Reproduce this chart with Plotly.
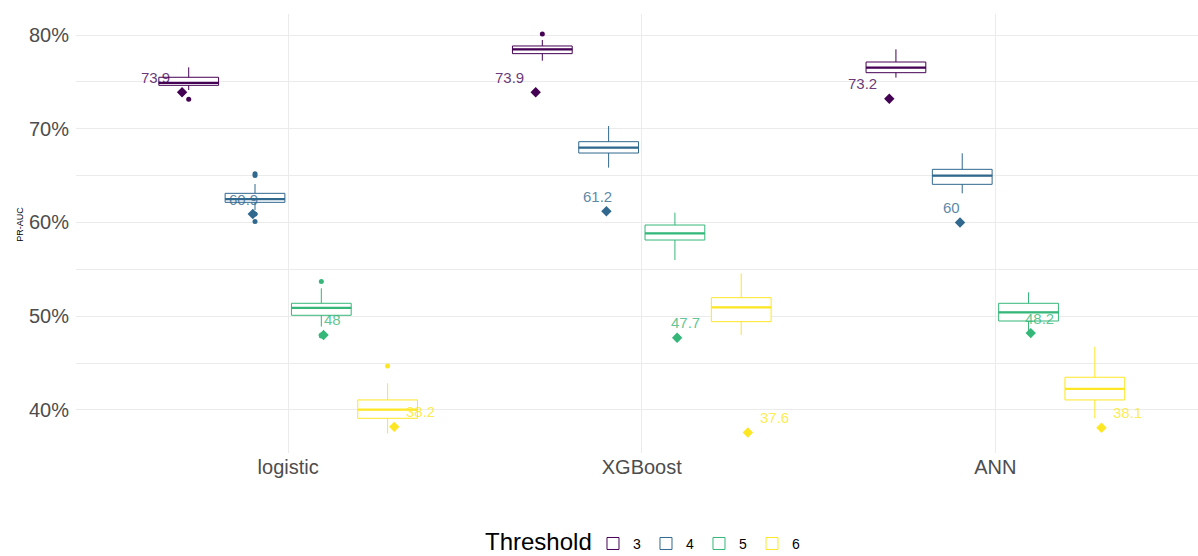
import plotly.graph_objects as go

# Models on the x axis and the threshold groups drawn inside each model
models = ["logistic", "XGBoost", "ANN"]
thresholds = ["3", "4", "5", "6"]
colors = ["#440154", "#31688E", "#35B779", "#FDE725"]
label_colors = ["rgba(68,1,84,0.8)", "rgba(49,104,142,0.8)",
                "rgba(53,183,121,0.8)", "rgba(253,231,37,0.8)"]

# y-axis ticks (PR-AUC in percent)
y_ticks = [40, 50, 60, 70, 80]
y_minor_ticks = [45, 55, 65, 75]

# Box statistics (PR-AUC, %), one row per threshold, one column per model
lower_whisker = [[74.13, 77.26, 75.45],
                 [61.33, 65.85, 63.11],
                 [48.90, 56.00, 48.35],
                 [37.50, 48.00, 39.11]]
q1 = [[74.63, 78.01, 75.98],
      [62.15, 67.41, 64.07],
      [50.10, 58.13, 49.49],
      [39.11, 49.42, 41.07]]
median = [[74.90, 78.47, 76.52],
          [62.50, 67.98, 64.99],
          [50.90, 58.84, 50.42],
          [40.03, 50.95, 42.24]]
q3 = [[75.49, 78.83, 77.12],
      [63.11, 68.62, 65.67],
      [51.38, 59.73, 51.38],
      [41.07, 51.98, 43.49]]
upper_whisker = [[76.55, 79.47, 78.47],
                 [64.10, 70.29, 67.38],
                 [52.98, 61.05, 52.55],
                 [42.85, 54.58, 46.75]]

# Outlying resamples per threshold and model
outliers = [[[73.14], [80.1], []],
            [[65.2, 65.0, 60.9, 60.1], [], []],
            [[53.7, 48.0, 47.9], [], []],
            [[44.7], [], []]]

# Single reference score per threshold and model (diamonds with labels)
reference_score = [[73.9, 73.9, 73.2],
                   [60.9, 61.2, 60.0],
                   [48.0, 47.7, 48.2],
                   [38.2, 37.6, 38.1]]

BOX_DODGE = 0.75 / 4
POINT_DODGE = 0.8 / 4
LABEL_DODGE = 1.0 / 4
BOX_WIDTH = 0.169
FONT = "Liberation Sans, Arial, sans-serif"

fig = go.Figure()
annotations = []

for j, thr in enumerate(thresholds):
    off = j - 1.5
    box_x = [i + 1 + off * BOX_DODGE for i in range(len(models))]
    fig.add_trace(go.Box(
        x=box_x,
        q1=q1[j], median=median[j], q3=q3[j],
        lowerfence=lower_whisker[j], upperfence=upper_whisker[j],
        width=BOX_WIDTH, whiskerwidth=0,
        line=dict(color=colors[j], width=1),
        fillcolor="white",
        name=thr, legendgroup=thr, boxpoints=False,
        hoverinfo="skip",
    ))

    # thicker median bar
    mx, my = [], []
    for i, bx in enumerate(box_x):
        mx += [bx - BOX_WIDTH / 2, bx + BOX_WIDTH / 2, None]
        my += [median[j][i], median[j][i], None]
    fig.add_trace(go.Scatter(x=mx, y=my, mode="lines",
                             line=dict(color=colors[j], width=2.2),
                             showlegend=False, legendgroup=thr, hoverinfo="skip"))

    # outliers
    ox, oy = [], []
    for i, pts in enumerate(outliers[j]):
        ox += [box_x[i]] * len(pts)
        oy += pts
    if ox:
        fig.add_trace(go.Scatter(x=ox, y=oy, mode="markers",
                                 marker=dict(color=colors[j], size=5),
                                 showlegend=False, legendgroup=thr, hoverinfo="skip"))

    # reference diamonds
    px = [i + 1 + off * POINT_DODGE for i in range(len(models))]
    fig.add_trace(go.Scatter(x=px, y=reference_score[j], mode="markers",
                             marker=dict(color=colors[j], size=8, symbol="diamond"),
                             showlegend=False, legendgroup=thr, hoverinfo="skip"))

    for i, v in enumerate(reference_score[j]):
        annotations.append(dict(
            x=i + 1 + off * LABEL_DODGE, y=v, xref="x", yref="y",
            text=f"{v:g}", showarrow=False, yshift=15,
            xanchor="center", yanchor="middle",
            font=dict(family=FONT, size=15, color=label_colors[j]),
        ))

# y-axis title
annotations.append(dict(
    x=-0.05, y=0.522, xref="paper", yref="paper",
    text="PR-AUC", textangle=-90, showarrow=False,
    xanchor="center", yanchor="middle",
    font=dict(family=FONT, size=9, color="black"),
))
# legend title, set beside the legend keys
annotations.append(dict(
    x=0.4617, y=-0.2017, xref="paper", yref="paper",
    text="Threshold", showarrow=False,
    xanchor="right", yanchor="middle",
    font=dict(family=FONT, size=24, color="black"),
))

fig.update_layout(
    width=1198, height=556,
    margin=dict(l=76, r=0, t=14, b=103, autoexpand=False),
    paper_bgcolor="white", plot_bgcolor="white",
    boxmode="overlay",
    font=dict(family=FONT),
    annotations=annotations,
    legend=dict(
        orientation="h", x=0.46078, y=-0.207,
        xanchor="left", yanchor="middle",
        font=dict(family=FONT, size=14, color="black"),
        itemwidth=30,
    ),
    xaxis=dict(
        range=[0.4, 3.573],
        tickvals=[1, 2, 3], ticktext=models,
        showgrid=True, gridcolor="#EBEBEB", gridwidth=1.1,
        zeroline=False, showline=False,
        ticks="",
        tickfont=dict(family=FONT, size=20, color="#4D4D4D"),
    ),
    yaxis=dict(
        range=[35.41, 82.24],
        tickvals=y_ticks, ticktext=[f"{t}%" for t in y_ticks],
        showgrid=True, gridcolor="#EBEBEB", gridwidth=1.1,
        minor=dict(tickvals=y_minor_ticks, showgrid=True,
                   gridcolor="#EBEBEB", gridwidth=0.7),
        zeroline=False, showline=False,
        ticks="outside", ticklen=2, tickcolor="rgba(0,0,0,0)",
        tickfont=dict(family=FONT, size=20, color="#4D4D4D"),
    ),
)

fig.write_html("out.html")
